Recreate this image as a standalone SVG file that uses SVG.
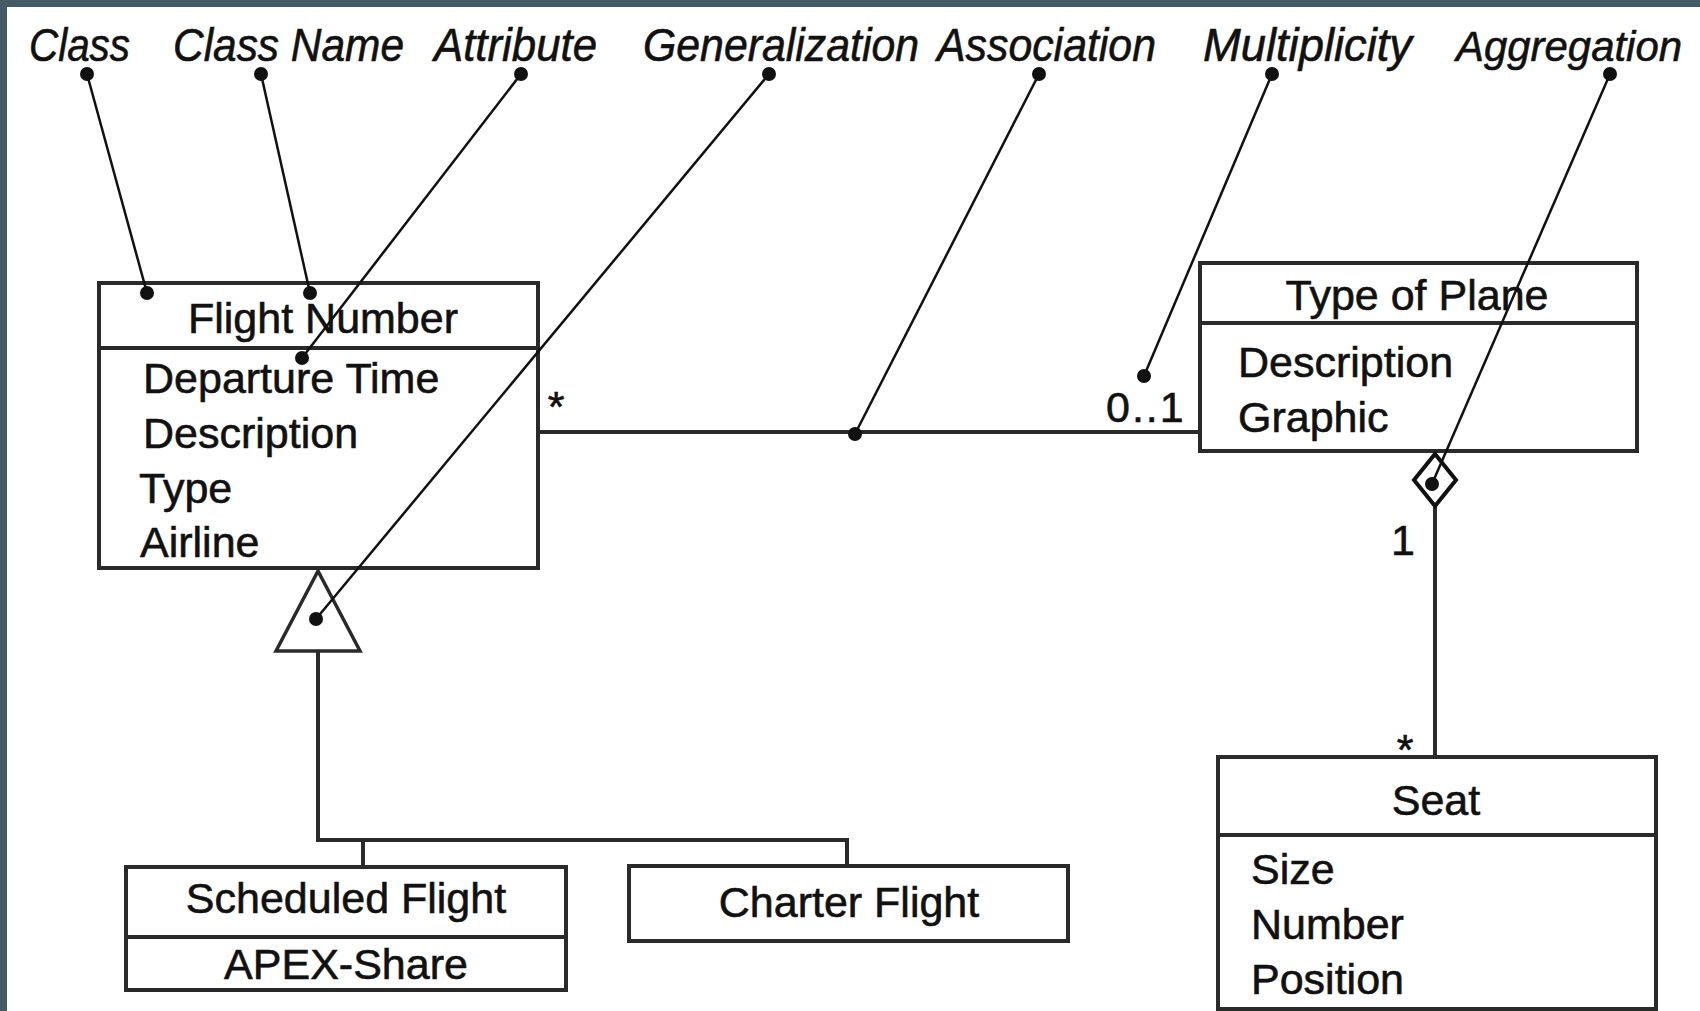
<svg xmlns="http://www.w3.org/2000/svg" width="1700" height="1011" viewBox="0 0 1700 1011">
<style>
.box{fill:#fff;stroke:#2a2a2a;stroke-width:4}
.div{stroke:#2a2a2a;stroke-width:4}
.t{font-family:"Liberation Sans",Arial,Helvetica,sans-serif;font-size:43px;fill:#111;stroke:#111;stroke-width:0.6}
.c{text-anchor:middle}
.lbl{font-style:italic;font-size:46px}
.conn{stroke:#2a2a2a;stroke-width:4;fill:none}
.ptr{stroke:#111;stroke-width:2.5;fill:none;marker-start:url(#dot);marker-end:url(#dot)}
.frame{fill:#465a66}
</style>
<defs>
<marker id="dot" markerWidth="16" markerHeight="16" refX="8" refY="8" markerUnits="userSpaceOnUse"><circle cx="8" cy="8" r="7" fill="#111"/></marker>
</defs>
<rect x="0" y="0" width="1700" height="1011" fill="#fff"/>
<rect class="frame" x="0" y="0" width="1700" height="7"/>
<rect class="frame" x="0" y="0" width="7" height="1011"/>

<g id="labels">
<g id="lbl-class"><text class="t lbl" x="29" y="61" textLength="101" lengthAdjust="spacingAndGlyphs">Class</text></g>
<g id="lbl-classname"><text class="t lbl" x="173" y="61" textLength="231" lengthAdjust="spacingAndGlyphs">Class Name</text></g>
<g id="lbl-attribute"><text class="t lbl" x="434" y="61" textLength="163" lengthAdjust="spacingAndGlyphs">Attribute</text></g>
<g id="lbl-generalization"><text class="t lbl" x="643" y="61" textLength="276" lengthAdjust="spacingAndGlyphs">Generalization</text></g>
<g id="lbl-association"><text class="t lbl" x="937" y="61" textLength="219" lengthAdjust="spacingAndGlyphs">Association</text></g>
<g id="lbl-multiplicity"><text class="t lbl" x="1203" y="61" textLength="209" lengthAdjust="spacingAndGlyphs">Multiplicity</text></g>
<g id="lbl-aggregation"><text class="t lbl" x="1456" y="61" font-size="43" style="font-size:43px" textLength="226" lengthAdjust="spacingAndGlyphs">Aggregation</text></g>
</g>

<g id="flight-number">
<rect class="box" x="99" y="283" width="439" height="285"/>
<line class="div" x1="99" y1="348" x2="538" y2="348"/>
<text class="t c" x="323" y="333">Flight Number</text>
<text class="t" x="143" y="393">Departure Time</text>
<text class="t" x="143" y="448">Description</text>
<text class="t" x="139" y="503">Type</text>
<text class="t" x="140" y="557">Airline</text>
</g>

<g id="type-of-plane">
<rect class="box" x="1200" y="263" width="437" height="188"/>
<line class="div" x1="1200" y1="323" x2="1637" y2="323"/>
<text class="t c" x="1417" y="310">Type of Plane</text>
<text class="t" x="1238" y="377">Description</text>
<text class="t" x="1238" y="432">Graphic</text>
</g>

<g id="scheduled-flight">
<rect class="box" x="126" y="867" width="440" height="123"/>
<line class="div" x1="126" y1="937" x2="566" y2="937"/>
<text class="t c" x="346" y="913">Scheduled Flight</text>
<text class="t c" x="346" y="979">APEX-Share</text>
</g>

<g id="charter-flight">
<rect class="box" x="629" y="866" width="439" height="75"/>
<text class="t c" x="849" y="917">Charter Flight</text>
</g>

<g id="seat">
<rect class="box" x="1218" y="757" width="438" height="252"/>
<line class="div" x1="1218" y1="835" x2="1656" y2="835"/>
<text class="t c" x="1436" y="815">Seat</text>
<text class="t" x="1251" y="884">Size</text>
<text class="t" x="1251" y="939">Number</text>
<text class="t" x="1251" y="994">Position</text>
</g>

<g id="connectors">
<g id="association">
<line class="conn" x1="538" y1="432" x2="1200" y2="432"/>
<text class="t c" x="556" y="421" font-size="40">*</text>
<text class="t" x="1106" y="422" letter-spacing="2">0..1</text>
</g>
<g id="generalization">
<polyline class="conn" points="318,652 318,840 847,840 847,866"/>
<line class="conn" x1="363" y1="840" x2="363" y2="867"/>
<polygon points="318,571 276,651 360,651" fill="#fff" stroke="#2a2a2a" stroke-width="3.5" stroke-linejoin="miter"/>
</g>
<g id="aggregation">
<line class="conn" x1="1435" y1="507" x2="1435" y2="757"/>
<polygon points="1435,454 1456,480 1435,506 1414,480" fill="#fff" stroke="#111" stroke-width="4"/>
<text class="t c" x="1403" y="555">1</text>
<text class="t c" x="1405" y="764" font-size="40">*</text>
</g>
<g id="pointers">
<line class="ptr" x1="87" y1="74" x2="147" y2="293"/>
<line class="ptr" x1="261" y1="74" x2="310" y2="293"/>
<line class="ptr" x1="521" y1="74" x2="302" y2="358"/>
<line class="ptr" x1="769" y1="74" x2="316" y2="619"/>
<line class="ptr" x1="1039" y1="74" x2="855" y2="434"/>
<line class="ptr" x1="1272" y1="74" x2="1144" y2="376"/>
<line class="ptr" x1="1610" y1="74" x2="1432" y2="484"/>
</g>
</g>
</svg>
